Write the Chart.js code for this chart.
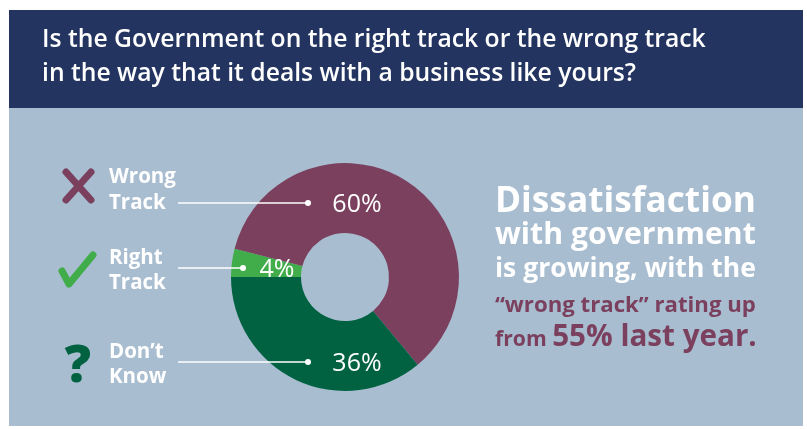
<!DOCTYPE html>
<html>
<head>
<meta charset="utf-8">
<script src="https://cdn.jsdelivr.net/npm/chart.js@4/dist/chart.umd.min.js"></script>
<style>
  html, body { margin: 0; padding: 0; background: #ffffff; }
  canvas { display: block; }
</style>
</head>
<body>
<canvas id="chart" width="807" height="429"></canvas>
<script>
// data, in drawing order (clockwise from 9 o'clock)
const categories = ['Right Track', 'Wrong Track', 'Don’t Know'];
const shares = [4, 60, 36];
const legendWords = [['Right', 'Track'], ['Wrong', 'Track'], ['Don’t', 'Know']];
const sliceColors = ['#41ad4a', '#7b405e', '#006241'];

const titleLines = [
  'Is the Government on the right track or the wrong track',
  'in the way that it deals with a business like yours?'
];
const noteWhite = ['Dissatisfaction', 'with government', 'is growing, with the'];
const noteMaroon = ['“wrong track” rating up', 'from ', '55% last year.'];

const NAVY = '#22345f';
const PANEL = '#a8bdd0';
const FONT = "'Open Sans', 'Liberation Sans', sans-serif";

function fitSize(ctx, text, weight, width) {
  ctx.font = weight + ' 100px ' + FONT;
  return 100 * width / ctx.measureText(text).width;
}

const ctx = document.getElementById('chart').getContext('2d');

const decor = {
  id: 'decor',
  beforeDraw: function (chart) {
    const c = chart.ctx;
    c.save();
    c.fillStyle = '#ffffff';
    c.fillRect(0, 0, chart.width, chart.height);
    c.fillStyle = NAVY;
    c.fillRect(9, 10, 794, 98);
    c.fillStyle = PANEL;
    c.fillRect(9, 108, 794, 318);

    // header question
    c.fillStyle = '#ffffff';
    c.textBaseline = 'alphabetic';
    const hs = fitSize(c, titleLines[0], 600, 664);
    c.font = '600 ' + hs + 'px ' + FONT;
    c.fillText(titleLines[0], 42, 47);
    c.fillText(titleLines[1], 42, 81);

    // note on the right, lines justified to one width
    const base = [212, 244, 277];
    noteWhite.forEach(function (t, i) {
      const s = fitSize(c, t, 700, 261);
      c.font = '700 ' + s + 'px ' + FONT;
      c.fillText(t, 495, base[i]);
    });
    c.fillStyle = '#7b405e';
    const s = fitSize(c, noteMaroon[0], 700, 261);
    c.font = '700 ' + s + 'px ' + FONT;
    c.fillText(noteMaroon[0], 495, 312);
    c.font = '700 100px ' + FONT;
    const wa = c.measureText(noteMaroon[1]).width;
    const wb = c.measureText(noteMaroon[2]).width * 1.4;
    const k = 100 * 262 / (wa + wb);
    c.font = '700 ' + k + 'px ' + FONT;
    c.fillText(noteMaroon[1], 495, 346);
    const off = c.measureText(noteMaroon[1]).width;
    c.font = '700 ' + (k * 1.4) + 'px ' + FONT;
    c.fillText(noteMaroon[2], 495 + off, 346);
    c.restore();
  },
  afterDatasetsDraw: function (chart) {
    const c = chart.ctx;
    const arc = chart.getDatasetMeta(0).data[0];
    const cx = arc.x, cy = arc.y;
    // rows: y of leader line, dot x, label centre x, legend baselines
    const rows = [
      { y: cy - 9, dot: cx - 102, lx: cx - 68, lb: [264, 289] },
      { y: cy - 74, dot: cx - 37, lx: cx + 12, lb: [183, 209] },
      { y: cy + 85, dot: cx - 37, lx: cx + 12, lb: [358, 383] }
    ];
    c.save();
    rows.forEach(function (r, i) {
      c.strokeStyle = '#ffffff';
      c.lineWidth = 1.5;
      c.beginPath();
      c.moveTo(178, r.y);
      c.lineTo(r.dot, r.y);
      c.stroke();
      c.fillStyle = '#ffffff';
      c.beginPath();
      c.arc(r.dot, r.y, 3, 0, Math.PI * 2);
      c.fill();

      c.font = '500 25px ' + FONT;
      c.textAlign = 'center';
      c.textBaseline = 'alphabetic';
      c.fillText(shares[i] + '%', r.lx, r.y + 9);

      c.textAlign = 'left';
      c.font = '700 20.5px ' + FONT;
      c.fillText(legendWords[i][0], 109, r.lb[0]);
      c.fillText(legendWords[i][1], 109, r.lb[1]);
    });

    // icons
    c.lineCap = 'round';
    c.lineJoin = 'round';
    c.lineWidth = 7;
    c.strokeStyle = sliceColors[1];
    c.beginPath();
    c.moveTo(66, 172); c.lineTo(91, 200);
    c.moveTo(91, 172); c.lineTo(66, 200);
    c.stroke();
    c.strokeStyle = sliceColors[0];
    c.beginPath();
    c.moveTo(62, 271); c.lineTo(69, 284); c.lineTo(93, 255);
    c.stroke();
    c.fillStyle = sliceColors[2];
    c.font = '800 52px ' + FONT;
    c.textAlign = 'center';
    c.fillText('?', 78, 382);
    c.restore();
  }
};

const chart = new Chart(ctx, {
  type: 'doughnut',
  data: {
    labels: categories,
    datasets: [{
      data: shares,
      backgroundColor: sliceColors,
      borderWidth: 0
    }]
  },
  plugins: [decor],
  options: {
    responsive: false,
    devicePixelRatio: 1,
    animation: false,
    rotation: 270,
    cutout: '38.6%',
    layout: { padding: { left: 231, right: 348, top: 163, bottom: 38 } },
    plugins: {
      legend: { display: false },
      tooltip: { enabled: false }
    }
  }
});
</script>
</body>
</html>
